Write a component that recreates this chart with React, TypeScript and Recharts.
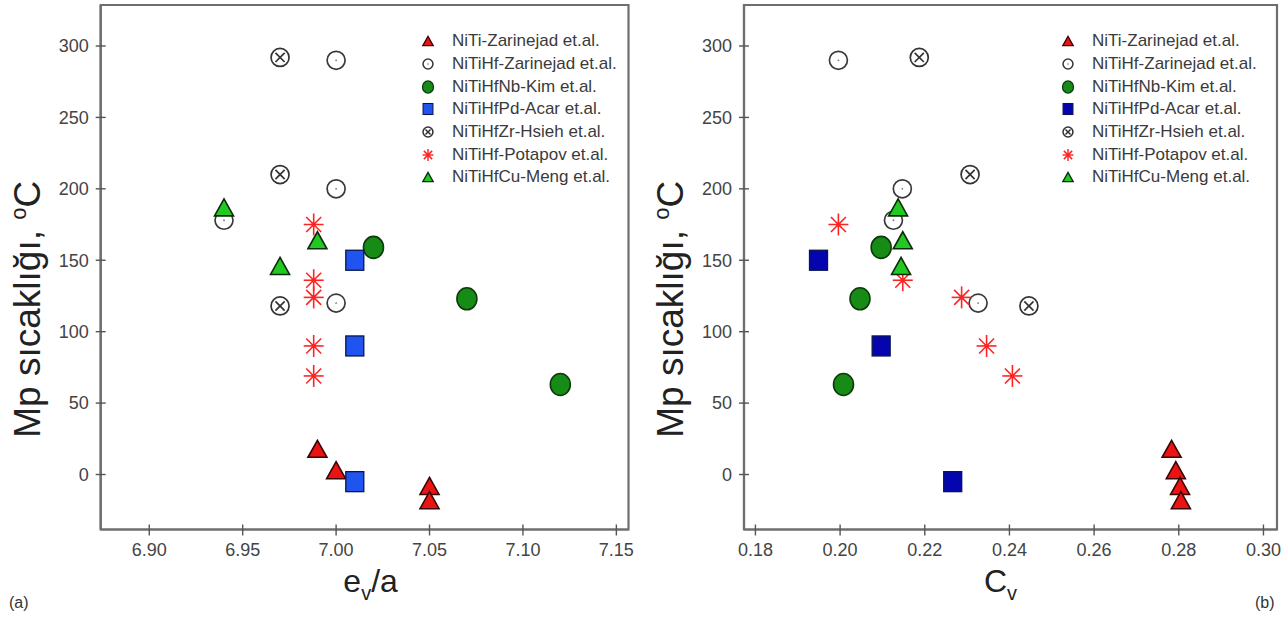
import React from 'react';
import { ScatterChart, Scatter, XAxis, YAxis, Legend, Label, ReferenceArea } from 'recharts';

const FONT = '"Liberation Sans", Arial, Helvetica, sans-serif';

// ---------- data ----------
const seriesNames = [
  'NiTi-Zarinejad et.al.',
  'NiTiHf-Zarinejad et.al.',
  'NiTiHfNb-Kim et.al.',
  'NiTiHfPd-Acar et.al.',
  'NiTiHfZr-Hsieh et.al.',
  'NiTiHf-Potapov et.al.',
  'NiTiHfCu-Meng et.al.',
];

// Mp temperatures (°C)
const nitiZarMp = [18, 3, -8, -18];
const nitiHfZarMp = [290, 200, 178, 120];
const nbKimMp = [159, 123, 63];
const pdAcarMp = [150, 90, -5];
const zrHsiehMp = [292, 210, 118];
const potapovMp = [175, 136, 124, 90, 69];
const cuMengMp = [187, 164, 146];

// e_v/a values (panel a)
const nitiZarEv = [6.99, 7.0, 7.05, 7.05];
const nitiHfZarEv = [7.0, 7.0, 6.94, 7.0];
const nbKimEv = [7.02, 7.07, 7.12];
const pdAcarEv = [7.01, 7.01, 7.01];
const zrHsiehEv = [6.97, 6.97, 6.97];
const potapovEv = [6.988, 6.988, 6.988, 6.988, 6.988];
const cuMengEv = [6.94, 6.99, 6.97];

// C_v values (panel b)
const nitiZarCv = [0.2783, 0.2793, 0.2803, 0.2805];
const nitiHfZarCv = [0.1996, 0.2147, 0.2126, 0.2326];
const nbKimCv = [0.2097, 0.2047, 0.2008];
const pdAcarCv = [0.1949, 0.2097, 0.2266];
const zrHsiehCv = [0.2187, 0.2307, 0.2446];
const potapovCv = [0.1996, 0.2148, 0.2287, 0.2346, 0.2407];
const cuMengCv = [0.2137, 0.2148, 0.2144];

// axes
const evTicks = [6.9, 6.95, 7.0, 7.05, 7.1, 7.15];
const cvTicks = [0.18, 0.2, 0.22, 0.24, 0.26, 0.28, 0.3];
const mpTicks = [0, 50, 100, 150, 200, 250, 300];
const evDomain = [6.874, 7.1565];
const cvDomain = [0.1773, 0.3032];
const mpDomain = [-38.5, 328.7];

const mpSeries = [nitiZarMp, nitiHfZarMp, nbKimMp, pdAcarMp, zrHsiehMp, potapovMp, cuMengMp];
const evSeries = [nitiZarEv, nitiHfZarEv, nbKimEv, pdAcarEv, zrHsiehEv, potapovEv, cuMengEv];
const cvSeries = [nitiZarCv, nitiHfZarCv, nbKimCv, pdAcarCv, zrHsiehCv, potapovCv, cuMengCv];

const toPoints = (xs: number[], ys: number[]) => xs.map((x, i) => ({ x, y: ys[i] }));

// ---------- symbols ----------
const kinds = ['redTri', 'dotCircle', 'greenCircle', 'square', 'crossCircle', 'star', 'greenTri'];

function drawSymbol(kind: string, cx: number, cy: number, s: number, panel: 'a' | 'b') {
  switch (kind) {
    case 'redTri':
    case 'greenTri': {
      const w = 19 * s, h = 17 * s;
      const fill = kind === 'redTri' ? '#ec1313' : '#22c922';
      const stroke = kind === 'redTri' ? '#3a0404' : '#0c2a0c';
      return (
        <polygon
          points={`${cx},${cy - h / 2} ${cx + w / 2},${cy + h / 2} ${cx - w / 2},${cy + h / 2}`}
          fill={fill}
          stroke={stroke}
          strokeWidth={1.6 * Math.max(s, 0.8)}
          strokeLinejoin="miter"
        />
      );
    }
    case 'dotCircle':
      return (
        <g>
          <circle cx={cx} cy={cy} r={9 * s} fill="#fff" stroke="#3a3a3a" strokeWidth={1.7 * Math.max(s, 0.9)} />
          <circle cx={cx} cy={cy} r={Math.max(0.9 * s, 0.8)} fill="#777" />
        </g>
      );
    case 'greenCircle':
      return <ellipse cx={cx} cy={cy} rx={10 * s} ry={11 * s} fill="#168c16" stroke="#0d3a0d" strokeWidth={1.6 * Math.max(s, 0.8)} />;
    case 'square': {
      const w = 18 * s, h = 20 * s;
      return (
        <rect
          x={cx - w / 2}
          y={cy - h / 2}
          width={w}
          height={h}
          fill={panel === 'a' ? '#1f55ee' : '#0505b0'}
          stroke="#0b1450"
          strokeWidth={1.3 * Math.max(s, 0.8)}
        />
      );
    }
    case 'crossCircle': {
      const r = 9 * s, d = 4.6 * s;
      return (
        <g stroke="#333" strokeWidth={1.7 * Math.max(s, 0.9)} fill="#fff">
          <circle cx={cx} cy={cy} r={r} />
          <line x1={cx - d} y1={cy - d} x2={cx + d} y2={cy + d} />
          <line x1={cx - d} y1={cy + d} x2={cx + d} y2={cy - d} />
        </g>
      );
    }
    case 'star': {
      const rv = 11 * s, rh = 10 * s, dd = 7.5 * s;
      return (
        <g stroke="#ff2424" strokeWidth={1.6 * Math.max(s, 0.9)}>
          <line x1={cx} y1={cy - rv} x2={cx} y2={cy + rv} />
          <line x1={cx - rh} y1={cy} x2={cx + rh} y2={cy} />
          <line x1={cx - dd} y1={cy - dd} x2={cx + dd} y2={cy + dd} />
          <line x1={cx - dd} y1={cy + dd} x2={cx + dd} y2={cy - dd} />
          <circle cx={cx} cy={cy} r={1.5 * s} fill="#ff2424" />
        </g>
      );
    }
    default:
      return null;
  }
}

const makeShape = (kind: string, panel: 'a' | 'b') => (props: any) => {
  const { cx, cy } = props;
  if (cx == null || cy == null) return <g />;
  return drawSymbol(kind, cx, cy, 1, panel);
};

// ---------- ticks ----------
const TICK_SIZE = 5;
const TICK_MARGIN = 9;
const AXIS_COLOR = '#6e6e6e';

const makeXTick = (digits: number) => (props: any) => {
  const { x, y, payload } = props;
  const axisY = y - TICK_SIZE - TICK_MARGIN;
  return (
    <g>
      <line x1={x} x2={x} y1={axisY - 5} y2={axisY + 6} stroke="#555" strokeWidth={1.4} />
      <text x={x} y={y} dy="0.71em" textAnchor="middle" fill="#444" fontSize={18} fontFamily={FONT}>
        {Number(payload.value).toFixed(digits)}
      </text>
    </g>
  );
};

const YTick = (props: any) => {
  const { x, y, payload } = props;
  const axisX = x + TICK_SIZE + 7;
  return (
    <g>
      <line x1={axisX - 5} x2={axisX + 5} y1={y} y2={y} stroke="#555" strokeWidth={1.4} />
      <text x={x} y={y} dy="0.355em" textAnchor="end" fill="#444" fontSize={18} fontFamily={FONT}>
        {payload.value}
      </text>
    </g>
  );
};

// ---------- titles ----------
const YTitle = (props: any) => {
  const vb = props.viewBox || {};
  const cx = vb.x + vb.width - 61;
  const cy = vb.y + vb.height / 2 + 42;
  return (
    <text transform={`rotate(-90 ${cx} ${cy})`} x={cx} y={cy} textAnchor="middle" fontSize={37} fontFamily={FONT} fill="#222">
      Mp sıcaklığı,{' '}
      <tspan fontSize={22} dy={-14}>o</tspan>
      <tspan dy={14}>C</tspan>
    </text>
  );
};

const makeXTitle = (main: string, sub: string, tag: string, tagSide: 'left' | 'right', dx: number) => (props: any) => {
  const vb = props.viewBox || {};
  const cx = vb.x + vb.width / 2 + dx;
  const base = vb.y + 62;
  const tagX = tagSide === 'left' ? 9 : vb.x + vb.width - 22;
  return (
    <g fontFamily={FONT}>
      <text x={cx} y={base} textAnchor="middle" fontSize={32} fill="#222">
        {main.charAt(0)}
        <tspan fontSize={20} dy={8}>{sub}</tspan>
        <tspan dy={-8}>{main.slice(1)}</tspan>
      </text>
      <text x={tagX} y={vb.y + 78} fontSize={16} fill="#333">{tag}</text>
    </g>
  );
};

// ---------- legend ----------
const makeLegend = (panel: 'a' | 'b') => () => (
  <div style={{ fontFamily: FONT }}>
    {seriesNames.map((name, i) => (
      <div key={name} style={{ display: 'flex', alignItems: 'center', height: 22.7 }}>
        <svg width={16} height={16} style={{ marginRight: 16, flex: 'none' }}>
          {drawSymbol(kinds[i], 8, 8, 0.55, panel)}
        </svg>
        <span style={{ fontSize: 17, color: '#3a3a3a', whiteSpace: 'nowrap' }}>{name}</span>
      </div>
    ))}
  </div>
);

// ---------- panel ----------
type PanelProps = {
  panel: 'a' | 'b';
  width: number;
  marginLeft: number;
  marginRight: number;
  xSeries: number[][];
  xTicks: number[];
  xDomain: number[];
  xDigits: number;
  xMain: string;
  xSub: string;
  tag: string;
  tagSide: 'left' | 'right';
  titleDx: number;
};

function Panel(p: PanelProps) {
  return (
    <ScatterChart
      width={p.width}
      height={621}
      margin={{ top: 5, right: p.marginRight, bottom: 61.5, left: p.marginLeft }}
    >
      <XAxis
        type="number"
        dataKey="x"
        domain={p.xDomain}
        ticks={p.xTicks}
        allowDataOverflow
        height={30}
        tickSize={TICK_SIZE}
        tickMargin={TICK_MARGIN}
        tickLine={false}
        axisLine={{ stroke: AXIS_COLOR, strokeWidth: 2.2 }}
        tick={makeXTick(p.xDigits)}
        interval={0}
      >
        <Label content={makeXTitle(p.xMain, p.xSub, p.tag, p.tagSide, p.titleDx)} />
      </XAxis>
      <YAxis
        type="number"
        dataKey="y"
        domain={mpDomain}
        ticks={mpTicks}
        allowDataOverflow
        width={60}
        tickSize={TICK_SIZE}
        tickMargin={7}
        tickLine={false}
        axisLine={{ stroke: AXIS_COLOR, strokeWidth: 2.2 }}
        tick={YTick}
        interval={0}
      >
        <Label content={YTitle} />
      </YAxis>
      <ReferenceArea
        x1={p.xDomain[0]}
        x2={p.xDomain[1]}
        y1={mpDomain[0]}
        y2={mpDomain[1]}
        fill="none"
        fillOpacity={0}
        stroke={AXIS_COLOR}
        strokeWidth={2.2}
        ifOverflow="visible"
      />
      <Legend
        layout="vertical"
        align="center"
        verticalAlign="middle"
        wrapperStyle={{ left: 420, top: 30, width: 215, height: 162 }}
        content={makeLegend(p.panel)}
      />
      {seriesNames.map((name, i) => (
        <Scatter
          key={name}
          name={name}
          data={toPoints(p.xSeries[i], mpSeries[i])}
          shape={makeShape(kinds[i], p.panel)}
          isAnimationActive={false}
        />
      ))}
    </ScatterChart>
  );
}

export default function App() {
  return (
    <div style={{ position: 'absolute', left: 0, top: 0, width: 1287, height: 621, background: '#fff', overflow: 'hidden' }}>
      <div style={{ position: 'absolute', left: 0, top: 0 }}>
        <Panel
          panel="a"
          width={640}
          marginLeft={40.7}
          marginRight={11.5}
          xSeries={evSeries}
          xTicks={evTicks}
          xDomain={evDomain}
          xDigits={2}
          xMain="e/a"
          xSub="v"
          tag="(a)"
          tagSide="left"
          titleDx={6}
        />
      </div>
      <div style={{ position: 'absolute', left: 640, top: 0 }}>
        <Panel
          panel="b"
          width={647}
          marginLeft={44}
          marginRight={10}
          xSeries={cvSeries}
          xTicks={cvTicks}
          xDomain={cvDomain}
          xDigits={2}
          xMain="C"
          xSub="v"
          tag="(b)"
          tagSide="right"
          titleDx={-10}
        />
      </div>
    </div>
  );
}
